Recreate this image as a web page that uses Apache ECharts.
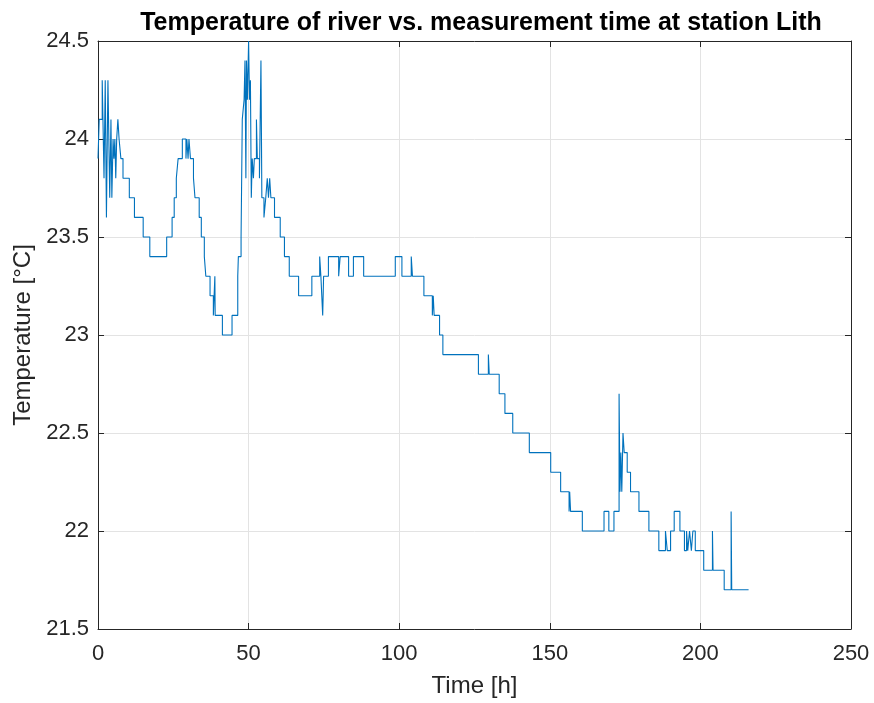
<!DOCTYPE html>
<html>
<head>
<meta charset="utf-8">
<script src="https://cdn.jsdelivr.net/npm/echarts@6/dist/echarts.min.js"></script>
<style>html,body{margin:0;padding:0;background:#fff}#c{width:874px;height:703px}</style>
</head>
<body>
<div id="c"></div>
<script>
// time of each level change [h]
const timeH = [0, 0.4, 1.4, 2.0, 2.4, 2.8, 3.3, 3.9, 4.3, 4.6, 5.0, 5.3, 5.6, 5.9, 6.2, 6.6, 7.0, 7.6, 8.3, 10.4, 12.1, 15.0, 17.2,
  22.8, 24.6, 25.3, 26.0, 26.6, 28.0, 29.2, 29.5, 29.9, 30.2, 30.7, 31.7, 32.2, 33.6, 34.3, 35.3, 35.8, 37.2, 38.3, 38.8, 38.9, 39.4, 41.3,
  44.5, 46.4, 46.6, 47.5, 47.9, 48.5, 48.8, 49.1, 49.3, 49.6, 50.0, 50.3, 50.6, 50.9, 51.2, 51.6, 51.9, 52.6, 52.9, 53.6, 54.1, 54.4, 55.1,
  55.7, 56.2, 56.6, 57.0, 57.4, 58.6, 60.5, 61.9, 63.5, 66.6, 71.0, 73.6, 74.0, 74.6, 74.9, 76.5, 79.9, 80.4, 83.2, 84.8, 88.2, 98.7,
  100.9, 104.0, 104.4, 108.2, 111.0, 111.3, 111.6, 113.4, 114.5, 126.3, 129.6, 129.9, 133.2, 135.1, 137.7, 143.2, 150.3, 153.6, 156.4,
  156.6, 156.9, 160.8, 168.0, 169.6, 171.3, 173.0, 173.3, 173.6, 173.9, 174.3, 174.7, 175.7, 176.8, 179.6, 182.9, 186.2, 188.4, 189.0,
  190.1, 191.3, 193.2, 194.7, 195.4, 195.8, 196.4, 197.0, 197.5, 198.3, 201.1, 204.0, 204.2, 207.9, 210.2, 210.4, 216.0];
// temperature [°C]
const tempC = [23.9, 24.1, 24.3, 23.8, 24.3, 23.6, 24.3, 23.7, 24.1, 23.7, 24.0, 23.9, 24.0, 23.8, 24.0, 24.1, 24.0, 23.9, 23.8, 23.7, 23.6, 23.5, 23.4,
  23.5, 23.6, 23.7, 23.8, 23.9, 24.0, 23.9, 24.0, 23.9, 24.0, 23.9, 23.8, 23.7, 23.6, 23.5, 23.4, 23.3, 23.2, 23.1, 23.3, 23.1, 23.1, 23.0,
  23.1, 23.3, 23.4, 23.5, 24.1, 24.2, 24.4, 23.8, 24.4, 24.2, 24.5, 24.2, 24.3, 23.7, 23.9, 23.8, 23.9, 24.1, 23.9, 23.8, 24.4, 23.7, 23.6,
  23.7, 23.8, 23.7, 23.8, 23.7, 23.6, 23.5, 23.4, 23.3, 23.2, 23.3, 23.4, 23.3, 23.1, 23.3, 23.4, 23.3, 23.4, 23.3, 23.4, 23.3, 23.4,
  23.3, 23.4, 23.3, 23.2, 23.1, 23.2, 23.1, 23.0, 22.9, 22.8, 22.9, 22.8, 22.7, 22.6, 22.5, 22.4, 22.3, 22.2, 22.1,
  22.2, 22.1, 22.0, 22.1, 22.0, 22.1, 22.7, 22.2, 22.4, 22.2, 22.5, 22.4, 22.3, 22.2, 22.1, 22.0, 21.9, 22.0, 21.9,
  22.0, 22.1, 22.0, 21.9, 22.0, 21.9, 22.0, 21.9, 22.0, 21.9, 21.8, 22.0, 21.8, 21.7, 22.1, 21.7, 21.7];

const xTicks = [0, 50, 100, 150, 200, 250];
const yTicks = [21.5, 22, 22.5, 23, 23.5, 24, 24.5];

const data = timeH.map((t, i) => [t, tempC[i]]);
const axisCol = '#262626';
const gridCol = '#e3e3e3';
const font = 'Liberation Sans, Arial, sans-serif';

const chart = echarts.init(document.getElementById('c'), null, {renderer: 'canvas'});
const baseX = {
  type: 'value', min: xTicks[0], max: xTicks[xTicks.length - 1], interval: 50,
  axisLine: {show: true, onZero: false, lineStyle: {color: axisCol, width: 1}},
  axisTick: {show: true, inside: true, length: 6, lineStyle: {color: axisCol}},
  splitLine: {show: false}
};
const baseY = {
  type: 'value', min: yTicks[0], max: yTicks[yTicks.length - 1], interval: 0.5,
  axisLine: {show: true, onZero: false, lineStyle: {color: axisCol, width: 1}},
  axisTick: {show: true, inside: true, length: 6, lineStyle: {color: axisCol}},
  splitLine: {show: false}
};
chart.setOption({
  animation: false,
  backgroundColor: '#fff',
  title: {
    text: 'Temperature of river vs. measurement time at station Lith',
    left: 476, top: 6, textAlign: 'center',
    textStyle: {fontFamily: font, fontSize: 25, fontWeight: 'bold', color: '#000'}
  },
  grid: {left: 98, top: 41, width: 753, height: 591, containLabel: false},
  xAxis: [
    Object.assign({}, baseX, {
      position: 'bottom', name: 'Time [h]', nameLocation: 'middle', nameGap: 45,
      nameTextStyle: {fontFamily: font, fontSize: 24, color: axisCol},
      axisLabel: {fontFamily: font, fontSize: 22, color: axisCol, margin: 14},
      splitLine: {show: true, lineStyle: {color: gridCol, width: 1}}
    }),
    Object.assign({}, baseX, {position: 'top', axisLabel: {show: false}})
  ],
  yAxis: [
    Object.assign({}, baseY, {
      position: 'left', name: 'Temperature [°C]', nameLocation: 'middle', nameGap: 61, nameRotate: 90,
      nameTextStyle: {fontFamily: font, fontSize: 24, color: axisCol},
      axisLabel: {fontFamily: font, fontSize: 22, color: axisCol, margin: 9,
        formatter: v => String(Math.round(v * 10) / 10)},
      splitLine: {show: true, lineStyle: {color: gridCol, width: 1}}
    }),
    Object.assign({}, baseY, {position: 'right', axisLabel: {show: false}})
  ],
  series: [{
    type: 'line', data: data, step: 'end', xAxisIndex: 0, yAxisIndex: 0,
    showSymbol: false, symbol: 'none',
    lineStyle: {color: '#0072BD', width: 1.1}
  }]
});
</script>
</body>
</html>
